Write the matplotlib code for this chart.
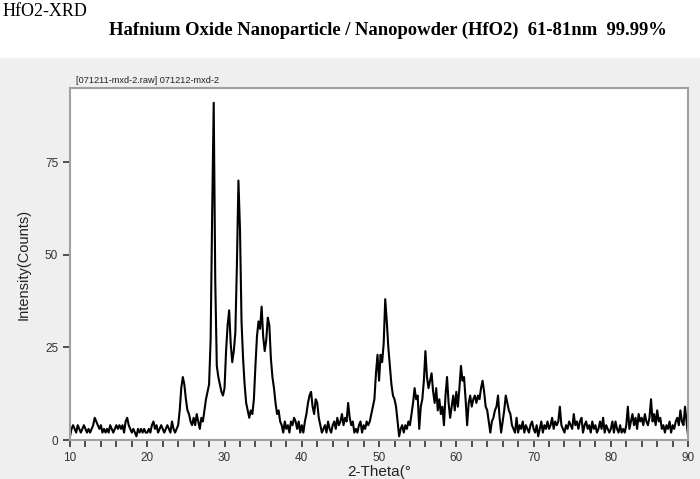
import numpy as np
import matplotlib.pyplot as plt
from matplotlib.patches import Rectangle
from matplotlib.ticker import MultipleLocator

# XRD scan, 0.2 degree step, counts
start_deg = 10.0
step_deg = 0.2

counts_10s = [1, 3, 4, 3, 2, 4, 3, 2, 3, 4,
              3, 2, 3, 2, 3, 4, 6, 5, 4, 3,
              4, 2, 3, 2, 3, 2, 4, 3, 2, 3,
              4, 3, 4, 3, 4, 2, 5, 6, 4, 3,
              2, 3, 2, 1, 3, 2, 3, 2, 3, 2]
counts_20s = [2, 3, 2, 4, 5, 3, 4, 2, 3, 4,
              3, 2, 3, 4, 3, 2, 5, 3, 2, 3,
              4, 8, 14, 17, 15, 11, 8, 7, 5, 4,
              6, 4, 7, 5, 3, 6, 5, 8, 11, 13,
              15, 27, 61, 91, 43, 20, 17, 15, 13, 12]
counts_30s = [14, 24, 31, 35, 26, 21, 24, 29, 47, 70,
              57, 32, 22, 15, 10, 8, 6, 8, 7, 11,
              20, 28, 32, 30, 36, 28, 24, 27, 33, 31,
              22, 17, 14, 10, 7, 8, 5, 4, 2, 5,
              3, 4, 2, 5, 4, 6, 5, 3, 5, 2]
counts_40s = [4, 2, 5, 7, 10, 12, 13, 9, 7, 11,
              10, 6, 4, 2, 3, 4, 2, 5, 3, 2,
              4, 5, 3, 6, 4, 5, 7, 4, 6, 5,
              10, 6, 4, 5, 2, 3, 2, 4, 5, 2,
              4, 3, 5, 4, 5, 7, 9, 11, 18, 23]
counts_50s = [16, 23, 21, 26, 38, 32, 25, 20, 15, 12,
              11, 9, 5, 1, 3, 4, 2, 4, 3, 5,
              4, 7, 10, 14, 11, 12, 3, 9, 11, 16,
              24, 17, 14, 16, 18, 13, 10, 14, 8, 11,
              7, 9, 4, 12, 17, 10, 6, 9, 12, 8]
counts_60s = [13, 9, 14, 20, 16, 17, 11, 4, 10, 12,
              9, 11, 12, 10, 12, 11, 14, 16, 13, 9,
              8, 5, 2, 5, 6, 8, 9, 12, 6, 2,
              5, 8, 12, 10, 8, 7, 4, 3, 2, 6,
              2, 4, 3, 5, 2, 4, 3, 2, 4, 5]
counts_70s = [3, 2, 4, 1, 3, 5, 2, 4, 3, 5,
              3, 4, 6, 3, 5, 4, 5, 9, 4, 3,
              2, 4, 3, 5, 4, 3, 7, 4, 5, 3,
              5, 6, 2, 4, 5, 3, 4, 2, 5, 3,
              4, 2, 3, 5, 3, 6, 2, 4, 3, 2]
counts_80s = [3, 5, 2, 5, 3, 2, 4, 2, 3, 2,
              4, 9, 3, 5, 7, 4, 6, 3, 7, 5,
              6, 4, 7, 5, 4, 6, 11, 5, 7, 4,
              8, 5, 6, 3, 4, 2, 4, 3, 5, 2,
              4, 3, 5, 6, 4, 8, 5, 4, 9, 5, 1]

counts = np.array(counts_10s + counts_20s + counts_30s + counts_40s
                  + counts_50s + counts_60s + counts_70s + counts_80s, dtype=float)
two_theta = start_deg + step_deg * np.arange(len(counts))

fig = plt.figure(figsize=(7.0, 4.79), dpi=100)
fig.patch.set_facecolor('#efefef')
# white band across the top behind the titles
fig.patches.append(Rectangle((0, 0.879), 1, 0.121, transform=fig.transFigure,
                             facecolor='white', edgecolor='none', zorder=-10))

fig.text(0.003, 0.975, 'HfO2-XRD', family='Liberation Serif', fontsize=13,
         va='center', ha='left')
fig.text(0.554, 0.937, 'Hafnium Oxide Nanoparticle / Nanopowder (HfO2)  61-81nm  99.99%',
         family='Liberation Serif', fontweight='bold', fontsize=13.4,
         va='center', ha='center')
fig.text(0.108, 0.831, '[071211-mxd-2.raw] 071212-mxd-2',
         family='Liberation Sans', fontsize=6.6,
         color='#222222', va='center', ha='left')

ax = fig.add_axes([0.1, 0.0814, 0.883, 0.735])
ax.set_facecolor('white')
ax.plot(two_theta, counts, color='black', lw=1.5)

ax.set_xlim(10, 90)
ax.set_ylim(0, 95)
ax.xaxis.set_major_locator(MultipleLocator(10))
ax.xaxis.set_minor_locator(MultipleLocator(2))
ax.set_yticks([0, 25, 50, 75])
ax.tick_params(axis='both', which='both', direction='out', length=5, width=1.2,
               color='#333333', labelsize=8.5, labelcolor='#333333')
for lab in ax.get_xticklabels() + ax.get_yticklabels():
    lab.set_family('Liberation Sans')
for sp in ax.spines.values():
    sp.set_color('#a0a0a0')
    sp.set_linewidth(1.5)

ax.set_xlabel('2-Theta(°', family='Liberation Sans', fontsize=11, color='#222222',
              labelpad=1)
ax.set_ylabel('Intensity(Counts)', family='Liberation Sans', fontsize=10.5,
              color='#222222', labelpad=10)

fig.savefig('out.png', dpi=100, facecolor=fig.get_facecolor())
